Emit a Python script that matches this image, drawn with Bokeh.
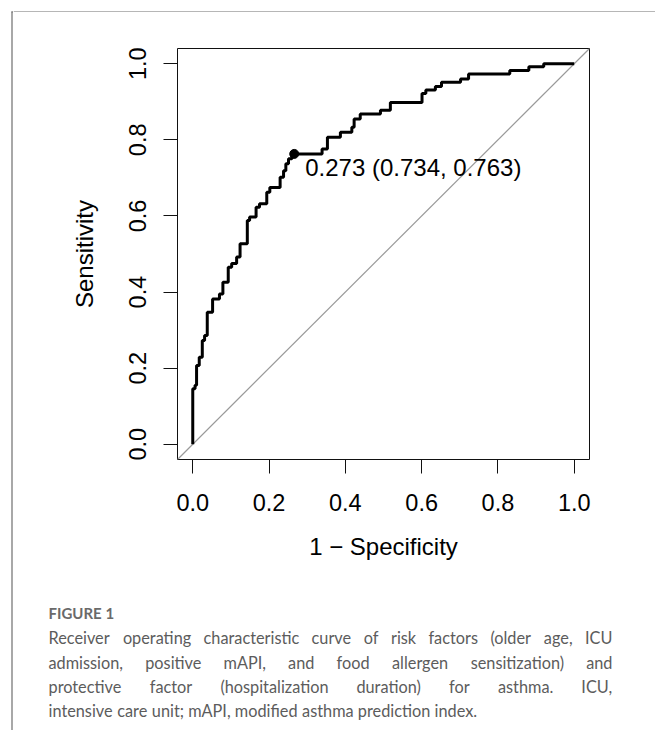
import os, glob, struct, subprocess
from bokeh.plotting import figure
from bokeh.layouts import row, column
from bokeh.models import Range1d, Label, FixedTicker, PrintfTickFormatter
from bokeh.embed import file_html
from bokeh.resources import INLINE

# ---------------- data ----------------
# ROC curve: x position (1 - specificity) where the curve rises, and sensitivity level after the rise
fpr_steps = [0.000, 0.000, 0.006, 0.010, 0.017, 0.025, 0.031, 0.038, 0.052, 0.070, 0.079, 0.093,
             0.102, 0.115, 0.124, 0.143, 0.149, 0.166, 0.175, 0.194, 0.202, 0.229, 0.238, 0.244,
             0.251, 0.260, 0.266, 0.339, 0.353, 0.387, 0.417, 0.423, 0.439, 0.492, 0.518, 0.601,
             0.611, 0.636, 0.652, 0.702, 0.723, 0.831, 0.881, 0.920, 1.000]
tpr_steps = [0.000, 0.146, 0.155, 0.207, 0.229, 0.273, 0.286, 0.347, 0.382, 0.395, 0.426, 0.465,
             0.475, 0.492, 0.527, 0.588, 0.597, 0.623, 0.632, 0.662, 0.675, 0.702, 0.719, 0.737,
             0.750, 0.761, 0.763, 0.776, 0.807, 0.820, 0.833, 0.855, 0.868, 0.878, 0.898, 0.922,
             0.931, 0.940, 0.951, 0.960, 0.973, 0.982, 0.992, 1.000, 1.000]
best_threshold = 0.273
best_specificity = 0.734
best_sensitivity = 0.763
axis_ticks = [0.0, 0.2, 0.4, 0.6, 0.8, 1.0]
x_title = "1 \u2212 Specificity"
y_title = "Sensitivity"
caption_head = "FIGURE 1"
caption_lines = [
    "Receiver operating characteristic curve of risk factors (older age, ICU",
    "admission, positive mAPI, and food allergen sensitization) and",
    "protective factor (hospitalization duration) for asthma. ICU,",
    "intensive care unit; mAPI, modified asthma prediction index.",
]

FRAME_COLOR = "#6e6e6e"


def bare(w, h, xr, yr):
    f = figure(width=w, height=h, x_range=Range1d(*xr), y_range=Range1d(*yr),
               output_backend="svg", toolbar_location=None,
               x_axis_location=None, y_axis_location=None, min_border=0,
               frame_align=False)
    f.grid.visible = False
    f.outline_line_color = None
    f.border_fill_color = "white"
    f.background_fill_color = "white"
    return f


# ---------------- outer frame strips ----------------
left_strip = bare(13, 730, (0, 13), (730, 0))
left_strip.line([11.5, 11.5], [11, 730], line_color=FRAME_COLOR, line_width=1.2)
left_strip.line([11, 13], [11.5, 11.5], line_color=FRAME_COLOR, line_width=1.2)

top_strip = bare(642, 12, (13, 655), (12, 0))
top_strip.line([13, 655], [11.5, 11.5], line_color=FRAME_COLOR, line_width=1.2)

# ---------------- main ROC figure ----------------
p = figure(width=642, height=588, output_backend="svg", toolbar_location=None,
           x_range=Range1d(-0.04, 1.04), y_range=Range1d(-0.04, 1.04),
           min_border_left=164, min_border_right=66, min_border_top=36, min_border_bottom=141,
           frame_align=False)
p.grid.visible = False
p.outline_line_color = "#111111"
p.outline_line_width = 1
p.background_fill_color = "white"
p.border_fill_color = "white"

p.line([-0.04, 1.04], [-0.04, 1.04], line_color="#9a9a9a", line_width=1.2)
p.step(x=fpr_steps, y=tpr_steps, mode="after", line_color="black", line_width=3)
p.scatter([1 - best_specificity], [best_sensitivity], size=9, color="black")
p.add_layout(Label(x=1 - best_specificity, y=best_sensitivity,
                   text=f"{best_threshold:.3f} ({best_specificity:.3f}, {best_sensitivity:.3f})",
                   x_offset=11, y_offset=0, text_baseline="top", text_align="left",
                   text_font="Liberation Sans", text_font_size="24px", text_color="black"))

for ax in (p.xaxis[0], p.yaxis[0]):
    ax.ticker = FixedTicker(ticks=axis_ticks)
    ax.formatter = PrintfTickFormatter(format="%.1f")
    ax.axis_line_color = None
    ax.major_tick_out = 14
    ax.major_tick_in = 0
    ax.minor_tick_out = 0
    ax.minor_tick_in = 0
    ax.major_tick_line_color = "#111111"
    ax.major_tick_line_width = 1
    ax.major_label_text_font = "Liberation Sans"
    ax.major_label_text_font_size = "23.5px"
    ax.major_label_text_color = "black"
    ax.axis_label_text_font = "Liberation Sans"
    ax.axis_label_text_font_size = "24px"
    ax.axis_label_text_font_style = "normal"
    ax.axis_label_text_color = "black"
p.xaxis.axis_label = x_title
p.yaxis.axis_label = y_title
p.xaxis.major_label_standoff = 20
p.yaxis.major_label_standoff = 17
p.xaxis.axis_label_standoff = 19
p.yaxis.axis_label_standoff = 29
p.yaxis.major_label_orientation = "vertical"

# ---------------- caption (justified, per word) ----------------
def _font_advances(path):
    data = open(path, "rb").read()
    off0 = struct.unpack(">I", data[12:16])[0] if data[:4] == b"ttcf" else 0
    num = struct.unpack(">H", data[off0 + 4:off0 + 6])[0]
    tabs = {}
    for i in range(num):
        rec = off0 + 12 + 16 * i
        tag = data[rec:rec + 4].decode("latin-1")
        _, toff, _tl = struct.unpack(">III", data[rec + 4:rec + 16])
        tabs[tag] = toff
    upem = struct.unpack(">H", data[tabs["head"] + 18:tabs["head"] + 20])[0]
    nhm = struct.unpack(">H", data[tabs["hhea"] + 34:tabs["hhea"] + 36])[0]
    hm = tabs["hmtx"]

    def adv(g):
        g = min(g, nhm - 1)
        return struct.unpack(">H", data[hm + 4 * g:hm + 4 * g + 2])[0]

    co = tabs["cmap"]
    nsub = struct.unpack(">H", data[co + 2:co + 4])[0]
    cmap = {}
    for i in range(nsub):
        pid, eid, soff = struct.unpack(">HHI", data[co + 4 + 8 * i:co + 12 + 8 * i])
        st = co + soff
        fmt = struct.unpack(">H", data[st:st + 2])[0]
        if fmt != 4 or not ((pid == 3 and eid == 1) or pid == 0):
            continue
        segx2 = struct.unpack(">H", data[st + 6:st + 8])[0]
        n = segx2 // 2
        ends = struct.unpack(">%dH" % n, data[st + 14:st + 14 + segx2])
        starts = struct.unpack(">%dH" % n, data[st + 16 + segx2:st + 16 + 2 * segx2])
        deltas = struct.unpack(">%dh" % n, data[st + 16 + 2 * segx2:st + 16 + 3 * segx2])
        ro = st + 16 + 3 * segx2
        roffs = struct.unpack(">%dH" % n, data[ro:ro + segx2])
        for s in range(n):
            for c in range(starts[s], min(ends[s], 0x2FF) + 1):
                if roffs[s] == 0:
                    g = (c + deltas[s]) & 0xFFFF
                else:
                    a = ro + 2 * s + roffs[s] + 2 * (c - starts[s])
                    g = struct.unpack(">H", data[a:a + 2])[0]
                    if g:
                        g = (g + deltas[s]) & 0xFFFF
                cmap[c] = g
        break
    return {chr(c): adv(g) / upem for c, g in cmap.items()}


def _find_font(family, fname):
    try:
        out = subprocess.run(["fc-match", "-f", "%{file}", f"{family}:style=Regular"],
                             capture_output=True, text=True, timeout=5).stdout.strip()
        if out and os.path.exists(out) and family.split()[0].lower() in out.lower():
            return out
    except Exception:
        pass
    for d in ["/usr/share/fonts", "/usr/local/share/fonts",
              os.path.expanduser("~/.fonts"), os.path.expanduser("~/.local/share/fonts")]:
        hits = glob.glob(os.path.join(d, "**", fname), recursive=True)
        if hits:
            return hits[0]
    return None


CAP_FONT = "Lato"
try:
    _adv = _font_advances(_find_font("Lato", "Lato-Regular.ttf"))
except Exception:
    _adv = {}


def em_width(w):
    return sum(_adv.get(ch, 0.48) for ch in w)


cap_left, cap_right = 48.0, 612.0
CAP_SIZE = 16.3
# never let the justified lines get tighter than normal spacing
_space_em = _adv.get(" ", 0.193)
_max_size = min((cap_right - cap_left) / max(em_width(" ".join(l.split(" "))), 1e-6)
                for l in caption_lines[:-1])
CAP_SIZE = min(CAP_SIZE, _max_size)
head_baseline = 612.0
line_baselines = [637.0, 661.5, 686.0, 710.0]

cap = bare(642, 130, (13, 655), (730, 600))
cap.add_layout(Label(x=cap_left, y=head_baseline, text=caption_head, text_font=CAP_FONT,
                     text_font_style="bold", text_font_size="15px", text_color="#6a6a6a",
                     text_baseline="alphabetic", text_align="left"))

space_w = _space_em * CAP_SIZE
for li, line in enumerate(caption_lines):
    words = line.split(" ")
    widths = [em_width(w) * CAP_SIZE for w in words]
    last = li == len(caption_lines) - 1
    if last or len(words) < 2:
        gap = space_w
    else:
        gap = (cap_right - cap_left - sum(widths)) / (len(words) - 1)
    xcur = cap_left
    for w, ww in zip(words, widths):
        cap.add_layout(Label(x=xcur, y=line_baselines[li], text=w, text_font=CAP_FONT,
                             text_font_size=f"{CAP_SIZE:.2f}px", text_color="#5c5c5c",
                             text_baseline="alphabetic", text_align="left"))
        xcur += ww + gap

layout = row(left_strip, column(top_strip, p, cap))
open("out.html", "w").write(file_html(layout, INLINE))
